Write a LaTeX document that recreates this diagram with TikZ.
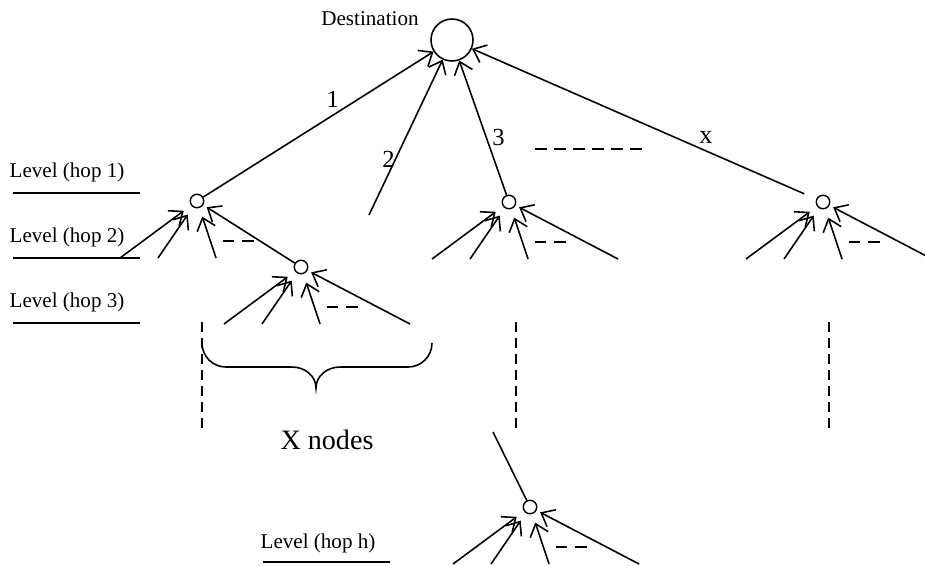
\documentclass[tikz,border=0pt]{standalone}
\usepackage{fontspec}
\setmainfont{Liberation Serif}
\usetikzlibrary{arrows.meta}
\tikzset{
  tree dest/.style={draw,circle,line width=.9pt,minimum size=8.4mm,inner sep=0pt},
  tree node/.style={draw,circle,line width=.8pt,minimum size=2.7mm,inner sep=0pt},
  tree line/.style={line width=.9pt},
  tree arrow/.style={line width=.9pt,-{Straight Barb[length=2.3mm,width=3.8mm]}},
  leaf arrow/.style={tree arrow,shorten >=1.8mm},
  side arrow/.style={tree arrow,shorten >=.8mm},
  dash pair/.style={line width=.9pt,dash pattern=on 6.5pt off 4.5pt},
  long dashes/.style={line width=.9pt,dash pattern=on 6.8pt off 4pt},
  level text/.style={font=\fontsize{12}{14}\selectfont},
  edge label/.style={font=\fontsize{14}{16}\selectfont,inner sep=1pt}
}
\begin{document}
\begin{tikzpicture}[x=0.02cm,y=-0.02cm]
  \useasboundingbox (0,0) rectangle (925,565);
  \clip (0,0) rectangle (925,565);
  % destination
  \node[tree dest] (dest) at (452,40) {};
  \node[level text] (destlab) at (370,19) {Destination};
  % hop nodes with their leaves
  \foreach \n/\x/\y in {a/197/201,b/301/267,c/509/202,d/823/202,e/530/507}{
    \node[tree node] (\n) at (\x,\y) {};
    \foreach \i/\dx in {1/-77,2/-39,3/19}{
      \coordinate (\n\i) at (\x+\dx,\y+57);
      \draw[leaf arrow] (\n\i) -- (\n);
    }
    \draw[dash pair] (\x+26,\y+40) -- ++(32,0);
  }
  \foreach \n/\x/\y in {b/301/267,c/509/202,d/823/202,e/530/507}{
    \coordinate (\n4) at (\x+109,\y+57);
    \draw[side arrow] (\n4) -- (\n);
  }
  \draw[side arrow] (b) -- (a);
  % links to the destination
  \coordinate (two) at (369,215);
  \draw[tree arrow] (a) -- node[edge label,pos=.6,above left=0pt] (lab1) {1} (dest);
  \draw[tree arrow] (two) -- node[edge label,pos=.36,left=-1pt] (lab2) {2} (dest);
  \draw[tree arrow] (c) -- node[edge label,pos=.43,right=2pt] (lab3) {3} (dest);
  \draw[tree arrow,shorten <=2.6mm] (d) -- node[edge label,font=\fontsize{15}{17}\selectfont,pos=.32,above=3pt] (labx) {x} (dest);
  \draw[long dashes] (535,149) -- (642,149);
  % lower part
  \coordinate (eup) at (493,432);
  \draw[tree line] (eup) -- (e);
  \foreach \x in {202,516,829}{\draw[tree line,dash pattern=on 5.7pt off 3.4pt] (\x,322) -- (\x,432);}
  \draw[tree line] (202,343) to[out=-90,in=180] (226,367) -- (292,367)
    to[out=0,in=90] (316,388) to[out=90,in=180] (340,367) -- (408,367) to[out=0,in=-90] (432,343);
  \node[font=\fontsize{16}{18}\selectfont] (xnodes) at (327,440) {X nodes};
  % levels
  \foreach \y/\lab in {193/1,258/2,323/3}{
    \node[level text] (lvl\lab) at (67,\y-21) {Level (hop \lab)};
    \draw[tree line] (13,\y) -- (140,\y);
  }
  \node[level text] (lvlh) at (318,543) {Level (hop h)};
  \draw[tree line] (263,562) -- (390,562);
\end{tikzpicture}
\end{document}
